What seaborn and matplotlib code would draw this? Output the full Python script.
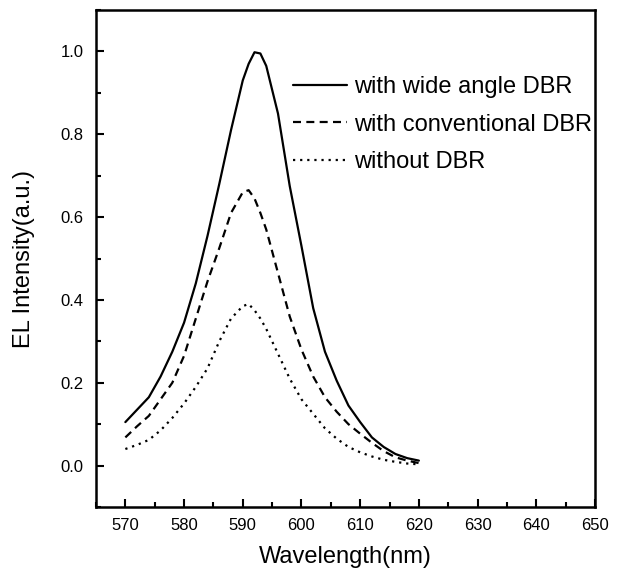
import numpy as np
import pandas as pd
import matplotlib
matplotlib.use("Agg")
import matplotlib.pyplot as plt
import seaborn as sns
from matplotlib.ticker import MultipleLocator, FormatStrFormatter

# wavelength grid (nm)
wavelength = [570, 572, 574, 576, 578, 580, 582, 584, 586, 588, 590, 591,
              592, 593, 594, 596, 598, 600, 602, 604, 606, 608, 610, 612,
              614, 616, 618, 620]

# EL intensity
wide_angle_dbr = [0.105, 0.135, 0.165, 0.215, 0.275, 0.345, 0.440, 0.555,
                  0.680, 0.810, 0.930, 0.970, 0.998, 0.995, 0.965, 0.850,
                  0.675, 0.530, 0.380, 0.275, 0.205, 0.145, 0.105, 0.068,
                  0.045, 0.028, 0.018, 0.012]
conventional_dbr = [0.068, 0.095, 0.120, 0.160, 0.200, 0.265, 0.355, 0.445,
                    0.525, 0.610, 0.660, 0.665, 0.645, 0.610, 0.570, 0.465,
                    0.360, 0.280, 0.215, 0.165, 0.130, 0.100, 0.077, 0.055,
                    0.035, 0.020, 0.012, 0.006]
without_dbr = [0.040, 0.050, 0.062, 0.085, 0.115, 0.150, 0.190, 0.235,
               0.300, 0.355, 0.385, 0.390, 0.375, 0.355, 0.330, 0.270,
               0.210, 0.160, 0.125, 0.090, 0.065, 0.045, 0.032, 0.022,
               0.014, 0.009, 0.005, 0.003]

labels = ["with wide angle DBR", "with conventional DBR", "without DBR"]

sns.set_style("ticks")
plt.rcParams['font.family'] = ['Liberation Sans', 'DejaVu Sans']
plt.rcParams['text.color'] = 'black'
plt.rcParams['axes.labelcolor'] = 'black'

fig = plt.figure(figsize=(6.18, 5.74), dpi=100)
ax = fig.add_axes([96 / 618, 1 - 507 / 574, 499 / 618, 497 / 574])

# one line per sample
sns.lineplot(x=wavelength, y=wide_angle_dbr, ax=ax, color="black",
             linewidth=1.6, label=labels[0])
sns.lineplot(x=wavelength, y=conventional_dbr, ax=ax, color="black",
             linewidth=1.6, label=labels[1])
sns.lineplot(x=wavelength, y=without_dbr, ax=ax, color="black",
             linewidth=1.6, label=labels[2])
lines = ax.get_lines()
lines[1].set_dashes([3.6, 2.4])
lines[2].set_dashes([1.0, 2.2])

ax.set_xlim(565, 650)
ax.set_ylim(-0.1, 1.1)
ax.xaxis.set_major_locator(MultipleLocator(10))
ax.xaxis.set_minor_locator(MultipleLocator(5))
ax.yaxis.set_minor_locator(MultipleLocator(0.1))
ax.set_yticks(np.arange(0, 1.01, 0.2))
ax.yaxis.set_major_formatter(FormatStrFormatter('%.1f'))

ax.tick_params(which="both", direction="in", width=1.5, colors="black",
               labelsize=12)
ax.tick_params(which="major", length=6)
ax.tick_params(which="minor", length=3.5)
ax.tick_params(axis="y", pad=9)
ax.tick_params(axis="x", pad=8)
for s in ax.spines.values():
    s.set_linewidth(1.8)
    s.set_color("black")

ax.set_xlabel("Wavelength(nm)", fontsize=17, labelpad=9)
ax.set_ylabel("EL Intensity(a.u.)", fontsize=17, labelpad=18)

leg = ax.legend(loc="upper left", bbox_to_anchor=(293 / 618, 1 - 76 / 574),
                bbox_transform=fig.transFigure, frameon=False, fontsize=17,
                handlelength=2.3, handletextpad=0.3, labelspacing=0.66,
                borderpad=0, borderaxespad=0)
leg.get_lines()[1].set_dashes([3.6, 2.4])
leg.get_lines()[2].set_dashes([1.0, 2.2])

fig.savefig("out.png", dpi=100)
